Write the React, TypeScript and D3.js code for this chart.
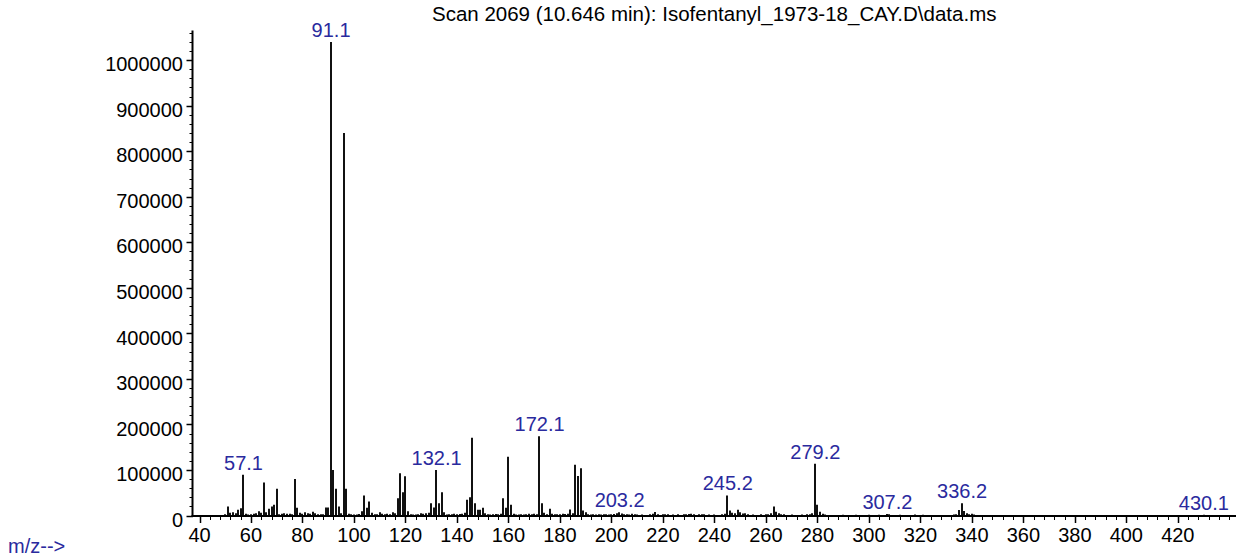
import React from "react";
import * as d3 from "d3";

const TITLE = "Scan 2069 (10.646 min): Isofentanyl_1973-18_CAY.D\\data.ms";
const X_LABEL = "m/z-->";

const mzValues: number[] = [
  50, 51, 52, 53, 54, 55, 56, 57, 58, 59, 60, 61, 62, 63, 64, 65, 66, 67, 68, 69,
  70, 71, 72, 73, 74, 75, 76, 77, 78, 79, 80, 81, 82, 83, 84, 85, 86, 87, 88, 89,
  90, 91, 92, 93, 94, 95, 96, 97, 98, 99, 100, 101, 102, 103, 104, 105, 106, 107, 108, 109,
  110, 111, 112, 113, 114, 115, 116, 117, 118, 119, 120, 121, 122, 123, 124, 125, 126, 127, 128, 129,
  130, 131, 132, 133, 134, 135, 136, 137, 138, 139, 140, 141, 142, 143, 144, 145, 146, 147, 148, 149,
  150, 151, 152, 153, 154, 155, 156, 157, 158, 159, 160, 161, 162, 163, 164, 165, 166, 167, 168, 169,
  170, 171, 172, 173, 174, 175, 176, 177, 178, 179, 180, 181, 182, 183, 184, 185, 186, 187, 188, 189,
  190, 191, 192, 193, 194, 195, 196, 197, 198, 199, 200, 201, 202, 203, 204, 205, 206, 207, 208, 209,
  210, 212, 215, 216, 217, 218, 220, 221, 222, 224, 226, 228, 229, 230, 231, 232, 234, 235, 236, 238,
  240, 243, 244, 245, 246, 247, 248, 249, 250, 251, 252, 253, 255, 258, 260, 261, 262, 263, 264, 265,
  266, 267, 270, 274, 276, 277, 278, 279, 280, 281, 282, 283, 290, 295, 300, 304, 307, 308, 312, 318,
  321, 333, 334, 335, 336, 337, 338, 339, 340, 341, 430,
];

const abundances: number[] = [
  3000, 19800, 6000, 7000, 5000, 12500, 16000, 89500, 4000, 2000, 2500, 4000, 5000, 9500, 6000, 72500, 7000, 15000, 20000, 23500,
  58600, 3000, 4000, 5000, 4000, 4000, 3000, 80000, 17000, 6000, 4000, 7000, 5000, 4000, 8000, 5000, 3000, 2500, 3000, 17500,
  17500, 1040000, 100000, 58600, 20000, 5000, 840000, 58600, 4000, 3000, 2000, 2000, 3500, 9500, 44000, 17000, 30800, 6000, 3000, 2500,
  7000, 4000, 3000, 4000, 3000, 7000, 5000, 38000, 93000, 51000, 86400, 9500, 3000, 2000, 2000, 3000, 5000, 4000, 5000, 6000,
  27000, 17500, 100000, 27000, 51000, 7000, 2000, 3000, 2500, 4000, 3000, 3500, 4000, 6000, 34500, 40000, 170800, 27000, 12500, 12500,
  17000, 5000, 3000, 2000, 3000, 3500, 3000, 4000, 38000, 17000, 129000, 23500, 4000, 2000, 2000, 2500, 2000, 3000, 4000, 3000,
  4000, 3000, 174000, 27000, 6000, 3000, 14700, 4000, 3000, 2500, 3000, 4000, 3500, 4000, 13000, 5000, 111400, 87000, 104000, 11000,
  7000, 3000, 2000, 3000, 2000, 2500, 2000, 3000, 2500, 2000, 3000, 3500, 5000, 7000, 4500, 2500, 3000, 2000, 4000, 2500,
  2000, 2000, 3000, 4000, 7500, 3000, 2500, 3000, 2500, 2000, 3000, 2500, 3000, 3500, 4000, 3000, 2500, 3000, 2500, 2000,
  2000, 2500, 4000, 44000, 11000, 6000, 5000, 12500, 7000, 4500, 5000, 3000, 2000, 2500, 3000, 2500, 5000, 20000, 8000, 5000,
  3000, 2500, 2000, 2000, 2500, 3000, 5000, 113600, 23500, 8000, 4000, 2000, 1500, 1500, 1500, 1500, 3500, 2500, 1500, 2000,
  1500, 2000, 3000, 12000, 27000, 10000, 5000, 3000, 4000, 2000, 1500,
];

const peakLabels: string[] = ["57.1", "91.1", "132.1", "172.1", "203.2", "245.2", "279.2", "307.2", "336.2", "430.1"];

const xMajorTicks: number[] = [40, 60, 80, 100, 120, 140, 160, 180, 200, 220, 240, 260, 280, 300, 320, 340, 360, 380, 400, 420];
const yMajorTicks: number[] = [0, 100000, 200000, 300000, 400000, 500000, 600000, 700000, 800000, 900000, 1000000];

const FONT = "'Liberation Sans', Arial, sans-serif";
const BLUE = "#2a2a9e";

export default function App() {
  const W = 1241;
  const H = 560;
  const x = d3.scaleLinear().domain([37.28, 442.6]).range([192.5, 1236]);
  const y = d3.scaleLinear().domain([0, 1065000]).range([515.5, 30.5]);

  const xMinor = d3.range(40, 441, 4);
  const yMinor = d3.range(0, 1065000, 20000);

  const data = mzValues.map((m, i) => ({ m, v: abundances[i] }));
  const lookup = new Map<number, number>(data.map((d) => [d.m, d.v]));

  return (
    <svg
      width={W}
      height={H}
      style={{ position: "absolute", left: 0, top: 0, background: "#fff" }}
      fontFamily={FONT}
    >
      <rect x={0} y={0} width={W} height={H} fill="#fff" />
      <text x={(x.range()[0] + x.range()[1]) / 2} y={21} textAnchor="middle" fontSize={20.5} fill="#000">
        {TITLE}
      </text>

      {/* bars */}
      {data.map((d, i) => (
        <line
          key={i}
          x1={Math.round(x(d.m))}
          x2={Math.round(x(d.m))}
          y1={y(0)}
          y2={y(d.v)}
          stroke="#111"
          strokeWidth={2}
        />
      ))}

      {/* peak labels */}
      {peakLabels.map((lab, i) => {
        const mz = parseFloat(lab);
        const v = lookup.get(Math.floor(mz)) ?? 0;
        return (
          <text key={i} x={x(mz)} y={y(v) - 5} textAnchor="middle" fontSize={20} fill={BLUE}>
            {lab}
          </text>
        );
      })}

      {/* y axis */}
      <line x1={192.5} x2={192.5} y1={30.5} y2={516.5} stroke="#000" strokeWidth={2} />
      {yMinor.map((t) => (
        <line key={"ym" + t} x1={189.5} x2={193} y1={Math.round(y(t)) + 0.5} y2={Math.round(y(t)) + 0.5} stroke="#000" strokeWidth={1} />
      ))}
      {yMajorTicks.map((t) => (
        <g key={"yM" + t}>
          <line x1={186.5} x2={193} y1={Math.round(y(t)) + 0.5} y2={Math.round(y(t)) + 0.5} stroke="#000" strokeWidth={1.5} />
          <text x={183} y={y(t) + 4} dy="0.36em" textAnchor="end" fontSize={20} fill="#000">
            {t}
          </text>
        </g>
      ))}

      {/* x axis */}
      <line x1={191.5} x2={1236} y1={516} y2={516} stroke="#000" strokeWidth={2} />
      {xMinor.map((t) => (
        <line key={"xm" + t} x1={Math.round(x(t)) + 0.5} x2={Math.round(x(t)) + 0.5} y1={516} y2={520} stroke="#000" strokeWidth={1} />
      ))}
      {xMajorTicks.map((t) => (
        <g key={"xM" + t}>
          <line x1={Math.round(x(t)) + 0.5} x2={Math.round(x(t)) + 0.5} y1={516} y2={523} stroke="#000" strokeWidth={1.5} />
          <text x={x(t)} y={542} textAnchor="middle" fontSize={20} fill="#000">
            {t}
          </text>
        </g>
      ))}

      <text x={8} y={553} fontSize={20} fill={BLUE}>
        {X_LABEL}
      </text>
    </svg>
  );
}
